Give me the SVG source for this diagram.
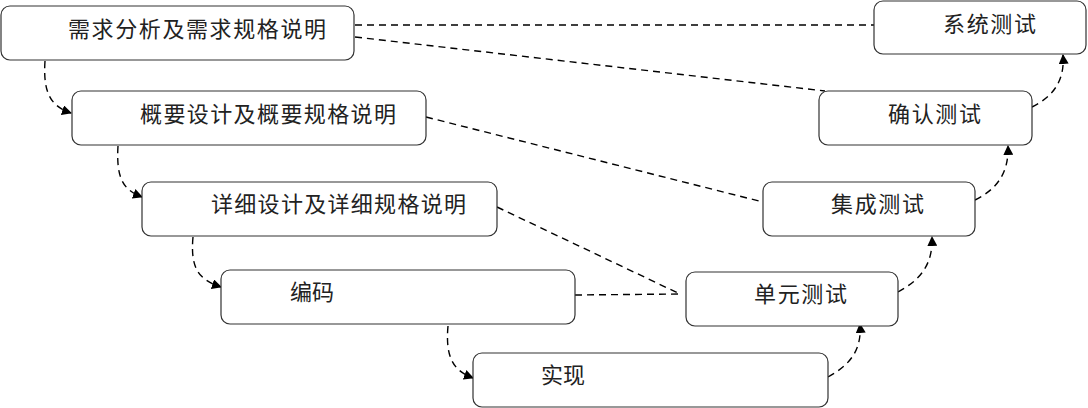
<svg xmlns="http://www.w3.org/2000/svg" width="1088" height="408" viewBox="0 0 1088 408">
<style>
.box{fill:#fff;stroke:#333;stroke-width:1.2}
.t{font-family:"Noto Sans CJK SC","Noto Sans",sans-serif;font-size:22px;fill:#222}
.c{fill:none;stroke:#000;stroke-width:1.4;stroke-dasharray:7,5}
.a{marker-end:url(#ah)}
</style>
<defs>
<marker id="ah" viewBox="0 0 10 10" refX="9" refY="5" markerWidth="10" markerHeight="10" markerUnits="userSpaceOnUse" orient="auto">
<path d="M0,0 L10,5 L0,10 z" fill="#000"/>
</marker>
</defs>
<g id="connectors">
<path class="c" d="M355,25 L874,25"/>
<path class="c" d="M355,37 L825,91"/>
<path class="c" d="M426,117 L759,201"/>
<path class="c" d="M497,207 L680,294"/>
<path class="c" d="M575,295 L680,294"/>
<path class="c a" d="M45,61 C43,92 50,106 71,113"/>
<path class="c a" d="M118,146 C116,180 124,190 142,197"/>
<path class="c a" d="M193,237 C190,270 200,280 221,287"/>
<path class="c a" d="M448,326 C445,360 455,371 473,378"/>
<path class="c a" d="M828,377 C850,365 862,350 860,324"/>
<path class="c a" d="M898,292 C920,280 933,265 932,237"/>
<path class="c a" d="M975,200 C995,190 1009,175 1008,146"/>
<path class="c a" d="M1032,107 C1052,97 1065,82 1063,55"/>
</g>
<g id="n1"><rect class="box" x="1" y="6" width="353" height="54" rx="9"/><text class="t" x="68" y="37" textLength="258" lengthAdjust="spacing">需求分析及需求规格说明</text></g>
<g id="n2"><rect class="box" x="72" y="91" width="354" height="54" rx="9"/><text class="t" x="140" y="122" textLength="256" lengthAdjust="spacing">概要设计及概要规格说明</text></g>
<g id="n3"><rect class="box" x="142" y="182" width="355" height="54" rx="9"/><text class="t" x="211" y="212" textLength="255" lengthAdjust="spacing">详细设计及详细规格说明</text></g>
<g id="n4"><rect class="box" x="221" y="270" width="354" height="54" rx="9"/><text class="t" x="290" y="300" textLength="44" lengthAdjust="spacing">编码</text></g>
<g id="n5"><rect class="box" x="473" y="353" width="355" height="54" rx="9"/><text class="t" x="541" y="383" textLength="44" lengthAdjust="spacing">实现</text></g>
<g id="n6"><rect class="box" x="686" y="272" width="212" height="54" rx="9"/><text class="t" x="754" y="302" textLength="93" lengthAdjust="spacing">单元测试</text></g>
<g id="n7"><rect class="box" x="763" y="182" width="212" height="54" rx="9"/><text class="t" x="831" y="212" textLength="93" lengthAdjust="spacing">集成测试</text></g>
<g id="n8"><rect class="box" x="819" y="91" width="213" height="54" rx="9"/><text class="t" x="888" y="122" textLength="93" lengthAdjust="spacing">确认测试</text></g>
<g id="n9"><rect class="box" x="874" y="1" width="212" height="53" rx="9"/><text class="t" x="943" y="32" textLength="93" lengthAdjust="spacing">系统测试</text></g>
</svg>
